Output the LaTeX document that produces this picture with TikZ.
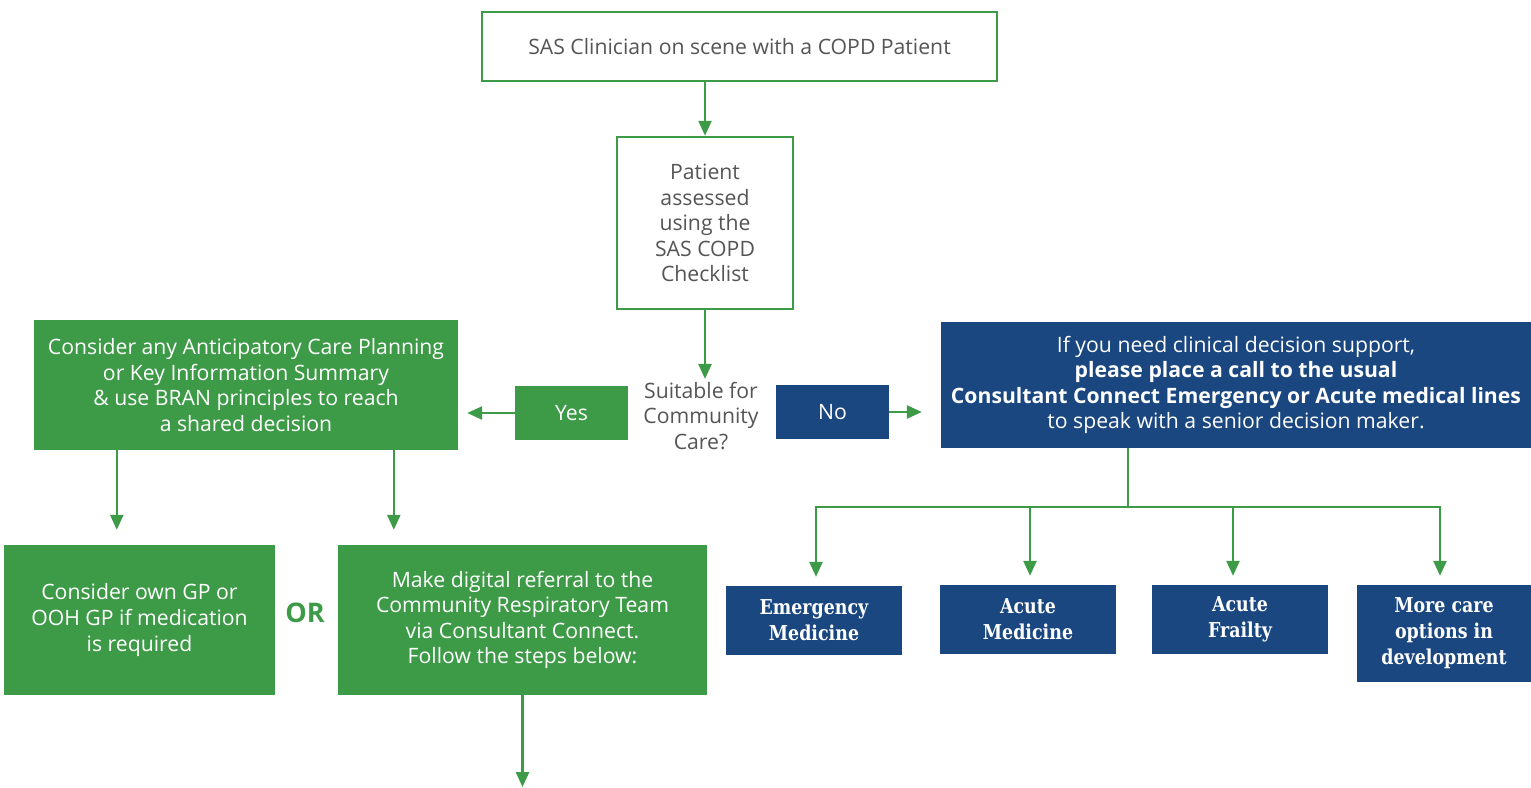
\documentclass[tikz,border=0pt]{standalone}
\usepackage{fontspec}
\setmainfont{Open Sans}
\newfontfamily\slabfont[FakeStretch=0.85]{DejaVu Serif}
\usetikzlibrary{arrows.meta,calc}
\definecolor{sasgreen}{HTML}{3D9A47}
\definecolor{sasblue}{HTML}{1A4780}
\definecolor{sasgrey}{HTML}{555555}
\newcommand\boxtext{\fontsize{21.2}{25.6}\selectfont}
\newcommand\slabtext{\slabfont\bfseries\fontsize{20.5}{26}\selectfont}
\tikzset{
  outlinebox/.style={draw=sasgreen, line width=2.5pt, fill=white, text=sasgrey, align=center, inner sep=0pt, font=\boxtext},
  greenbox/.style={fill=sasgreen, text=white, align=center, inner sep=0pt, font=\boxtext},
  bluebox/.style={fill=sasblue, text=white, align=center, inner sep=0pt, font=\boxtext},
  careopt/.style={bluebox, minimum width=176pt, minimum height=69pt, font=\slabtext},
  flow/.style={draw=sasgreen, line width=2.5pt, -{Triangle[length=15pt,width=13pt]}},
}

\begin{document}
\begin{tikzpicture}[x=1pt,y=-1pt]
\useasboundingbox (0,0) rectangle (1531,787);
% top of the chart
\node [outlinebox, minimum width=515pt, minimum height=69pt] (scene) at (739.5,46.5) {SAS Clinician on scene with a COPD Patient};
\node [outlinebox, minimum width=176pt, minimum height=172pt] (check) at (705,223) {Patient\\assessed\\using the\\SAS COPD\\Checklist};
\node [text=sasgrey, align=center, font=\boxtext, inner sep=3pt] (suitable) at (701,416) {Suitable for\\Community\\Care?};
\node [greenbox, minimum width=113pt, minimum height=54pt] (yes) at (571.5,413) {Yes};
\node [bluebox, minimum width=113pt, minimum height=54pt] (no) at (832.5,412) {No};
% community side
\node [greenbox, minimum width=424pt, minimum height=130pt] (acp) at (246,385) {Consider any Anticipatory Care Planning\\or Key Information Summary\\\& use BRAN principles to reach\\a shared decision};
\node [greenbox, minimum width=271pt, minimum height=150pt] (gp) at (139.5,620) {Consider own GP or\\OOH GP if medication\\is required};
\node [text=sasgreen, font=\bfseries\fontsize{27}{30}\selectfont] (or) at (305,613) {OR};
\node [greenbox, minimum width=369pt, minimum height=150pt] (referral) at (522.5,620) {Make digital referral to the\\Community Respiratory Team\\via Consultant Connect.\\Follow the steps below:};
\coordinate (steps) at (522.5,787);
% hospital side
\node [bluebox, minimum width=590pt, minimum height=126pt] (consult) at (1236,385) {If you need clinical decision support,\\\textbf{please place a call to the usual}\\\textbf{Consultant Connect Emergency or Acute medical lines}\\to speak with a senior decision maker.};
\coordinate (fork) at (1128,507);
\node [careopt] (emerg) at (814,620.5) {Emergency\\Medicine};
\node [careopt] (acmed) at (1028,619.5) {Acute\\Medicine};
\node [careopt] (frail) at (1240,619.5) {Acute\\Frailty};
\node [careopt, minimum width=174pt, minimum height=97pt] (more) at (1444,633.5) {More care\\options in\\development};

\draw [flow] (scene.south -| check) -- (check);
\draw [flow] (check) -- (check |- suitable.north);
\draw [flow, shorten >=9pt] (yes) -- (yes -| acp.east);
\draw [flow, shorten >=19pt] (no) -- (no -| consult.west);
\draw [flow, shorten >=15pt] ([xshift=83pt]acp.south west) -- ([xshift=113pt]gp.north west);
\draw [flow, shorten >=15pt] ([xshift=360pt]acp.south west) -- ([xshift=56pt]referral.north west);
\draw [flow] (referral) -- (steps);
\draw [draw=sasgreen, line width=2.5pt] (consult.south -| fork) -- (fork);
\foreach \opt/\dx in {emerg/2,acmed/2,frail/-7,more/-4}{
  \draw [flow, shorten >=9pt] (fork) -| ([xshift=\dx pt]\opt.north);
}
\end{tikzpicture}
\end{document}
